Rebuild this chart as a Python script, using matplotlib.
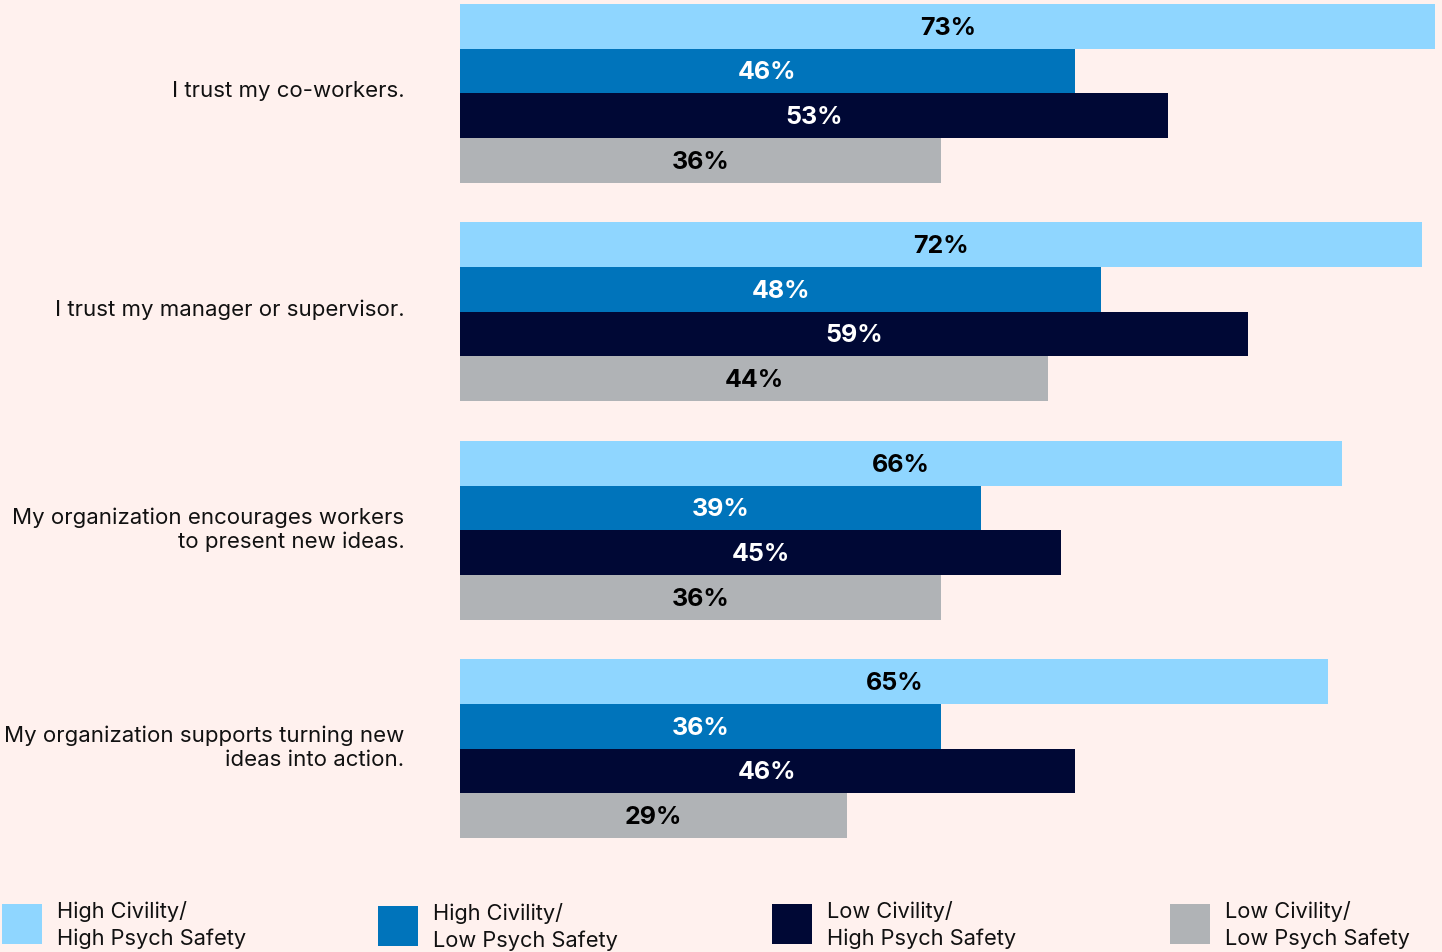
import numpy as np
import matplotlib
matplotlib.use("Agg")
import matplotlib.pyplot as plt
from matplotlib.patches import Rectangle

plt.rcParams['font.family'] = ['Inter', 'DejaVu Sans']

categories = ["I trust my co-workers.",
              "I trust my manager or supervisor.",
              "My organization encourages workers\nto present new ideas.",
              "My organization supports turning new\nideas into action."]
series = ["High Civility/\nHigh Psych Safety",
          "High Civility/\nLow Psych Safety",
          "Low Civility/\nHigh Psych Safety",
          "Low Civility/\nLow Psych Safety"]
hh_vals = [73, 72, 66, 65]
hl_vals = [46, 48, 39, 36]
lh_vals = [53, 59, 45, 46]
ll_vals = [36, 44, 36, 29]
colors = ["#8FD6FF", "#0074BB", "#000835", "#B0B3B6"]
txtcols = ["#000000", "#FFFFFF", "#FFFFFF", "#000000"]
bg = "#FFF1EE"

W, H = 1442, 952
fig = plt.figure(figsize=(W/100, H/100), dpi=100, facecolor=bg)
ax = fig.add_axes([460/W, 1-838/H, 1-460/W, (838-4)/H])
ax.set_facecolor(bg)

step = 4.89
grp = np.arange(len(categories)) * step
allvals = [hh_vals, hl_vals, lh_vals, ll_vals]
for j, vals in enumerate(allvals):
    y = grp + j
    bars = ax.barh(y, vals, height=1.0, color=colors[j], linewidth=0)
    for b, v in zip(bars, vals):
        ax.text(v/2, b.get_y()+0.54, f"{v}%", ha='center', va='center',
                fontsize=18, fontweight='bold', color=txtcols[j])

ax.set_xlim(0, 73.5)
ax.set_ylim(3*step+3+0.5, -0.5)
ax.set_yticks(grp + 1.4)
ax.set_yticklabels(categories, fontsize=16, linespacing=1.2)
ax.tick_params(axis='y', length=0, pad=40, colors='#111111')
ax.set_xticks([])
for s in ax.spines.values():
    s.set_visible(False)

# legend, drawn by hand: square + two-line label
leg_x = [2, 378, 772, 1170]
leg_y = [904, 906, 904, 904]
for j in range(4):
    x0, y0 = leg_x[j], leg_y[j]
    fig.add_artist(Rectangle((x0/W, 1-(y0+40)/H), 40/W, 40/H,
                             transform=fig.transFigure, facecolor=colors[j], linewidth=0))
    fig.text((x0+55)/W, 1-(y0+21)/H, series[j], ha='left', va='center',
             fontsize=15.7, linespacing=1.35, color='#111111')

fig.savefig("out.png", dpi=100, facecolor=bg)
